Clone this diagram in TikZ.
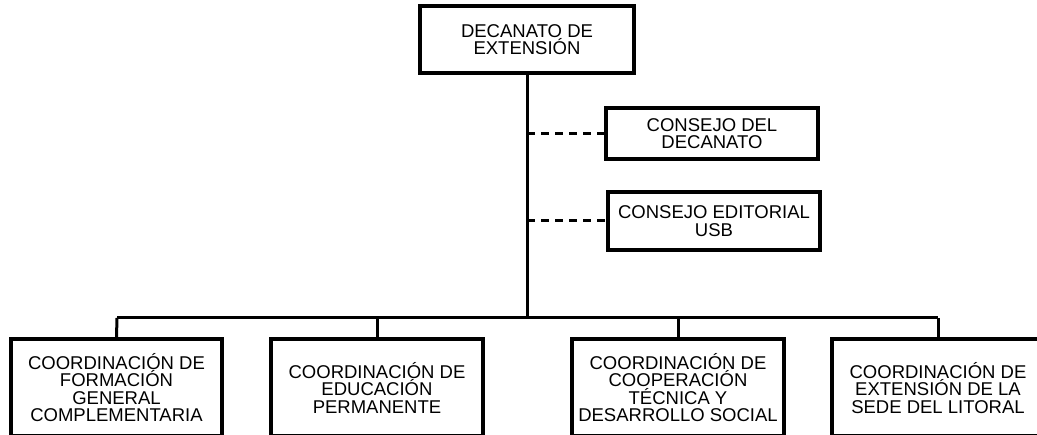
\documentclass[tikz,border=0pt]{standalone}
\usepackage{fontspec}
\setmainfont{Liberation Sans}
\begin{document}
\begin{tikzpicture}[x=1pt,y=-1pt,
  box/.style={draw=black, line width=4pt, fill=white, rectangle, align=center,
    inner sep=0pt, font=\fontsize{18.5}{17.5}\selectfont},
  link/.style={draw=black, line width=3pt},
  dlink/.style={draw=black, line width=3pt, dash pattern=on 8pt off 6pt}]
\useasboundingbox (0,0) rectangle (1037,435);
\clip (0,0) rectangle (1037,435);
\node[box, minimum width=214pt, minimum height=67pt] (dec) at (527,39.5) {DECANATO DE\\EXTENSIÓN};
\node[box, minimum width=212pt, minimum height=51pt] (cd) at (712,133.5) {CONSEJO DEL\\DECANATO};
\node[box, minimum width=212pt, minimum height=58pt] (ce) at (714,221) {CONSEJO EDITORIAL\\USB};
\node[box, minimum width=211pt, minimum height=97.5pt] (c1) at (116.5,387.75) {COORDINACIÓN DE\\FORMACIÓN\\GENERAL\\COMPLEMENTARIA};
\node[box, minimum width=212pt, minimum height=97.5pt] (c2) at (377,387.75) {COORDINACIÓN DE\\EDUCACIÓN\\PERMANENTE};
\node[box, minimum width=212pt, minimum height=97.5pt] (c3) at (678,387.75) {COORDINACIÓN DE\\COOPERACIÓN\\TÉCNICA Y\\DESARROLLO SOCIAL};
\node[box, minimum width=212pt, minimum height=97.5pt] (c4) at (938,387.75) {COORDINACIÓN DE\\EXTENSIÓN DE LA\\SEDE DEL LITORAL};
\coordinate (bus) at (527,318);
\coordinate (busL) at (117,318);
\coordinate (busR) at (938,318);
\draw[link] (dec.south) -- (bus);
\draw[link] (busL) -- (busR);
\draw[link] (busL) -- (c1.north);
\draw[link] (c2.north |- bus) -- (c2.north);
\draw[link] (c3.north |- bus) -- (c3.north);
\draw[link] (busR) -- (c4.north);
\draw[dlink] (dec.south |- cd.west) -- (cd.west);
\draw[dlink] (dec.south |- ce.west) -- (ce.west);
\end{tikzpicture}
\end{document}
